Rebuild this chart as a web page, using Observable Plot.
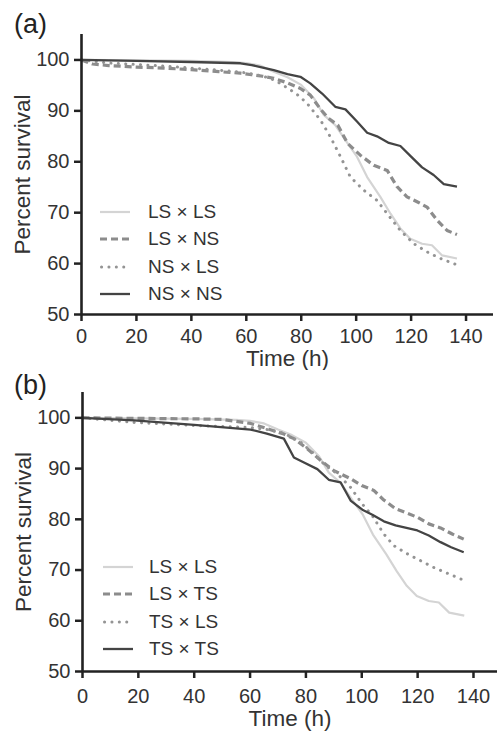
<!DOCTYPE html>
<html>
<head>
<meta charset="utf-8">
<script src="https://cdn.jsdelivr.net/npm/d3@7"></script>
<script src="https://cdn.jsdelivr.net/npm/@observablehq/plot@0.6"></script>
<style>
  html, body { margin: 0; padding: 0; background: #fff; }
  body { width: 497px; height: 737px; overflow: hidden; font-family: "Liberation Sans", Arial, sans-serif; }
  .panel { position: relative; width: 497px; }
  .legend-row { position: absolute; height: 20px; display: flex; align-items: center; font-size: 19px; color: #333; white-space: pre; }
  .legend-row svg { display: block; }
</style>
</head>
<body>
<div id="pa" class="panel" style="height:370px"></div>
<div id="pb" class="panel" style="height:367px"></div>
<script>
// ---------- Data ----------
const xTicks = [0, 20, 40, 60, 80, 100, 120, 140];
const yTicks = [50, 60, 70, 80, 90, 100];

// Panel (a)
const tA_LSLS = [0, 20, 40, 55, 60, 65, 70, 75, 80, 84.6, 88.2, 92.4, 96.9, 100.3, 104, 108.8, 112.5, 116.1, 119.7, 124, 127.6, 131.3, 136.7];
const vA_LSLS = [100, 99.9, 99.8, 99.6, 99.4, 98.9, 97.7, 96.6, 95.1, 92.5, 89.2, 87.2, 83.6, 81.0, 77.0, 73.1, 69.8, 66.9, 64.9, 63.9, 63.6, 61.6, 61.0];

const tA_LSNS = [0, 4, 10, 20, 30, 40, 50, 57.9, 62, 66, 70, 75, 79.7, 83.3, 87.2, 90, 93.3, 96.9, 101.5, 106.4, 111.3, 114.9, 118.5, 122, 125.8, 129.5, 133.1, 136.7];
const vA_LSNS = [100, 99.2, 98.9, 98.6, 98.4, 98.1, 97.7, 97.4, 97.1, 96.8, 96.4, 95.5, 94.4, 93.1, 90.2, 88.5, 87.2, 83.6, 81.3, 79.3, 78.3, 75.1, 73.1, 72.2, 71.1, 68.5, 66.5, 65.7];

const tA_NSLS = [0, 10, 20, 30, 40, 50, 58, 63, 68.8, 72, 76.1, 79, 82.1, 87, 90.6, 94.3, 97.9, 102.8, 107.6, 111.3, 116.1, 121, 125.8, 130.7, 136.5];
const vA_NSLS = [100, 99.4, 99.1, 98.8, 98.4, 98.0, 97.6, 97.2, 96.4, 95.5, 94.1, 93.0, 91.5, 88.2, 84.9, 81.0, 77.0, 74.4, 72.4, 69.8, 66.5, 63.9, 62.3, 61.0, 59.8];

const tA_NSNS = [0, 20, 40, 57.9, 62, 66, 70, 75, 79.7, 83.3, 87.6, 92.4, 96.1, 100.3, 104, 107.6, 111.9, 116.1, 120, 124, 128.2, 131.9, 136.7];
const vA_NSNS = [100, 99.8, 99.6, 99.35, 99.0, 98.5, 98.0, 97.2, 96.7, 95.4, 93.4, 90.8, 90.3, 87.9, 85.7, 85.0, 83.7, 83.1, 81.0, 78.9, 77.4, 75.6, 75.1];

// Panel (b)
const tB_LSLS = tA_LSLS;
const vB_LSLS = vA_LSLS;

const tB_LSTS = [0, 20, 40, 50, 60.2, 66, 72.1, 75.7, 80.5, 85.3, 90, 96, 100.2, 104.3, 107.9, 112.1, 116.3, 119.9, 124, 128.2, 132.4, 136.5];
const vB_LSTS = [100, 99.9, 99.8, 99.7, 98.9, 97.9, 96.8, 95.9, 93.9, 91.6, 89.6, 88.0, 86.6, 85.7, 83.8, 82.1, 81.2, 80.4, 79.1, 78.3, 77.1, 76.1];

const tB_TSLS = [0, 18.5, 40, 60.2, 66, 72.1, 78.1, 82.9, 87, 91.2, 96, 100.2, 103.8, 107.9, 111.5, 116.3, 125.8, 136.5];
const vB_TSLS = [100, 99.1, 98.5, 98.1, 97.7, 97.0, 95.2, 92.9, 90.6, 89.0, 86.3, 83.0, 80.7, 77.1, 74.8, 73.2, 70.5, 68.0];

const tB_TSTS = [0, 18.5, 40, 60.2, 66, 72.1, 75.7, 79.3, 84.1, 88.2, 92.4, 96, 100.2, 103.8, 107.9, 112.1, 119.9, 124, 128.2, 132, 136.5];
const vB_TSTS = [100, 99.5, 98.6, 97.7, 96.9, 95.9, 92.2, 91.2, 89.9, 87.8, 87.3, 83.7, 81.9, 80.9, 79.6, 78.8, 77.8, 76.8, 75.5, 74.5, 73.5];

const labelsA = ["LS × LS", "LS × NS", "NS × LS", "NS × NS"];
const labelsB = ["LS × LS", "LS × TS", "TS × LS", "TS × TS"];

// ---------- Styles ----------
const styles = [
  {stroke: "#d4d4d4", strokeWidth: 2.2, strokeDasharray: null, strokeLinecap: "butt"},
  {stroke: "#8c8c8c", strokeWidth: 3.2, strokeDasharray: "7,4", strokeLinecap: "butt"},
  {stroke: "#949494", strokeWidth: 3, strokeDasharray: "0.1,7.3", strokeLinecap: "round"},
  {stroke: "#444444", strokeWidth: 2.3, strokeDasharray: null, strokeLinecap: "butt"}
];

function toRows(t, v) { return t.map((d, i) => ({t: d, v: v[i]})); }

function makePanel(cfg) {
  const series = cfg.series;
  const marks = [];
  series.forEach((s, i) => {
    const st = styles[i];
    const opts = {x: "t", y: "v", stroke: st.stroke, strokeWidth: st.strokeWidth, strokeLinecap: st.strokeLinecap, strokeLinejoin: "round"};
    if (st.strokeDasharray) opts.strokeDasharray = st.strokeDasharray;
    marks.push(Plot.line(toRows(s[0], s[1]), opts));
  });
  marks.push(
    Plot.axisX({ticks: xTicks, tickSize: 7, tickPadding: cfg.xPad, fontSize: 20, label: null, stroke: "#222", strokeWidth: 2.5, fill: "#333", tickFormat: d => String(d)}),
    Plot.axisY({ticks: yTicks, tickSize: 7, tickPadding: 5, fontSize: 20, label: null, stroke: "#222", strokeWidth: 2.5, fill: "#333", tickFormat: d => String(d)}),
    Plot.ruleY([50], {stroke: "#222", strokeWidth: 2.6}),
    Plot.ruleX([0], {y1: 50, y2: cfg.yTop, stroke: "#222", strokeWidth: 2.6}),
    Plot.text(["Time (h)"], {frameAnchor: "bottom", dy: cfg.xTitleDy, fontSize: 22.5, fill: "#333"}),
    Plot.text(["Percent survival"], {frameAnchor: "left", dx: -59, rotate: -90, textAnchor: "middle", fontSize: 22.5, fill: "#333"}),
    Plot.text([cfg.tag], {frameAnchor: "top-left", dx: 13.5 - cfg.marginLeft, dy: cfg.tagDy, lineAnchor: "top", textAnchor: "start", fontSize: 27, fill: "#222"})
  );
  const chart = Plot.plot({
    width: 497,
    height: cfg.height,
    marginLeft: cfg.marginLeft,
    marginRight: cfg.marginRight,
    marginTop: cfg.marginTop,
    marginBottom: cfg.marginBottom,
    x: {domain: cfg.xDomain},
    y: {domain: [50, cfg.yTop]},
    style: {fontFamily: "'Liberation Sans', Arial, sans-serif", color: "#333", background: "white", overflow: "visible"},
    marks
  });
  const el = document.getElementById(cfg.id);
  el.appendChild(chart);
  // legend
  cfg.labels.forEach((lab, i) => {
    const st = styles[i];
    const row = document.createElement("div");
    row.className = "legend-row";
    row.style.left = cfg.legendX + "px";
    row.style.top = (cfg.legendY[i] - 10) + "px";
    const dash = st.strokeDasharray ? ` stroke-dasharray="${st.strokeDasharray}"` : "";
    row.innerHTML = `<svg width="${cfg.legendW}" height="10"><line x1="${st.strokeLinecap === 'round' ? 1.5 : 0}" y1="5" x2="${cfg.legendW}" y2="5" stroke="${st.stroke}" stroke-width="${st.strokeWidth}" stroke-linecap="${st.strokeLinecap}"${dash}/></svg><span style="margin-left:${cfg.legendGap}px">${lab}</span>`;
    el.appendChild(row);
  });
}

makePanel({
  id: "pa", tag: "(a)", height: 370,
  marginLeft: 81, marginRight: 4, marginTop: 34, marginBottom: 56,
  xDomain: [0, 150], yTop: 105, xPad: 7, xTitleDy: 51, tagDy: -21,
  series: [[tA_LSLS, vA_LSLS], [tA_LSNS, vA_LSNS], [tA_NSLS, vA_NSLS], [tA_NSNS, vA_NSNS]],
  labels: labelsA, legendX: 100, legendW: 30, legendGap: 18, legendY: [212, 239.3, 266.7, 294]
});

makePanel({
  id: "pb", tag: "(b)", height: 367,
  marginLeft: 82, marginRight: 0, marginTop: 22, marginBottom: 66,
  xDomain: [0, 148.6], yTop: 105, xPad: 10, xTitleDy: 54, tagDy: -18,
  series: [[tB_LSLS, vB_LSLS], [tB_LSTS, vB_LSTS], [tB_TSLS, vB_TSLS], [tB_TSTS, vB_TSTS]],
  labels: labelsB, legendX: 103, legendW: 30, legendGap: 16, legendY: [196.7, 224, 251.7, 279.3]
});
</script>
</body>
</html>
